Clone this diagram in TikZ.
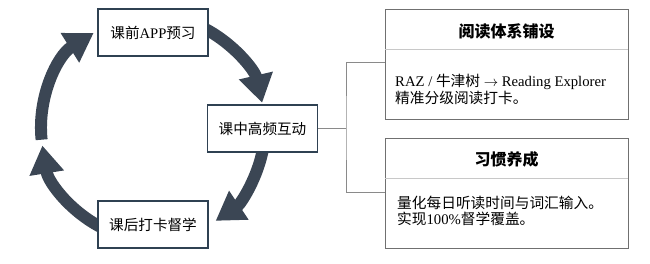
\documentclass[tikz,border=0pt]{standalone}
\usepackage{fontspec}
\setmainfont{Liberation Serif}
\newfontfamily\cjk{Noto Sans CJK SC}
\usetikzlibrary{arrows.meta}
\definecolor{arrowc}{HTML}{3B4654}
\definecolor{boxc}{HTML}{2F4152}
\definecolor{panelc}{HTML}{707070}
\definecolor{divc}{HTML}{C8C8C8}
\definecolor{linkc}{HTML}{8A8A8A}
\tikzset{
  cyc/.style={draw=arrowc, line width=12pt, -{Triangle[length=28pt,width=33pt]}},
  stage/.style={draw=boxc, line width=1.4pt, fill=white, minimum width=110pt, minimum height=47pt, inner sep=0pt, font=\fontsize{14.6}{16}\selectfont},
  panel/.style={draw=panelc, line width=0.9pt, fill=white},
  divider/.style={draw=divc, line width=0.8pt},
  link/.style={draw=linkc, line width=0.9pt},
  ptitle/.style={font=\fontsize{16}{18}\selectfont\cjk\bfseries},
  pbody/.style={anchor=west, align=left, font=\fontsize{14.7}{16.5}\selectfont, inner sep=0pt}
}
\begin{document}
\begin{tikzpicture}[x=1pt,y=1pt]
\useasboundingbox (0,0) rectangle (650,-264);
\coordinate (c) at (153,-128);
% cycle arrows
\draw[cyc] (c) ++(64:112pt) arc[start angle=64,end angle=13,radius=112pt];
\draw[cyc] (c) ++(-10:112pt) arc[start angle=-10,end angle=-56,radius=112pt];
\draw[cyc] (c) ++(246:112pt) arc[start angle=246,end angle=189,radius=112pt];
\draw[cyc] (c) ++(186:112pt) arc[start angle=186,end angle=122,radius=112pt];
% stage boxes
\node[stage] (pre) at (153,-32.5) {{\cjk 课前}APP{\cjk 预习}};
\node[stage] (mid) at (262.5,-128.5) {\cjk 课中高频互动};
\node[stage] (post) at (153,-224.5) {\cjk 课后打卡督学};
% panels
\draw[panel] (385,-9) rectangle (628,-119);
\draw[divider] (385,-49) -- (628,-49);
\node[ptitle] (t1) at (506.5,-31) {阅读体系铺设};
\node[pbody] (b1) at (395,-89.5) {RAZ / {\cjk 牛津树} $\rightarrow$ Reading Explorer\\[0pt]{\cjk 精准分级阅读打卡。}};
\coordinate (p1) at (385,-62);
\draw[panel] (385,-138) rectangle (628,-248);
\draw[divider] (385,-178) -- (628,-178);
\node[ptitle] (t2) at (506.5,-159) {习惯养成};
\node[pbody] (b2) at (397,-211) {{\cjk 量化每日听读时间与词汇输入。}\\[0pt]{\cjk 实现}100\%{\cjk 督学覆盖。}};
\coordinate (p2) at (385,-192);
% links
\coordinate (j) at (346,-128.5);
\draw[link] (mid.east) -- (j);
\draw[link] (p1) -| (j) |- (p2);
\end{tikzpicture}
\end{document}
